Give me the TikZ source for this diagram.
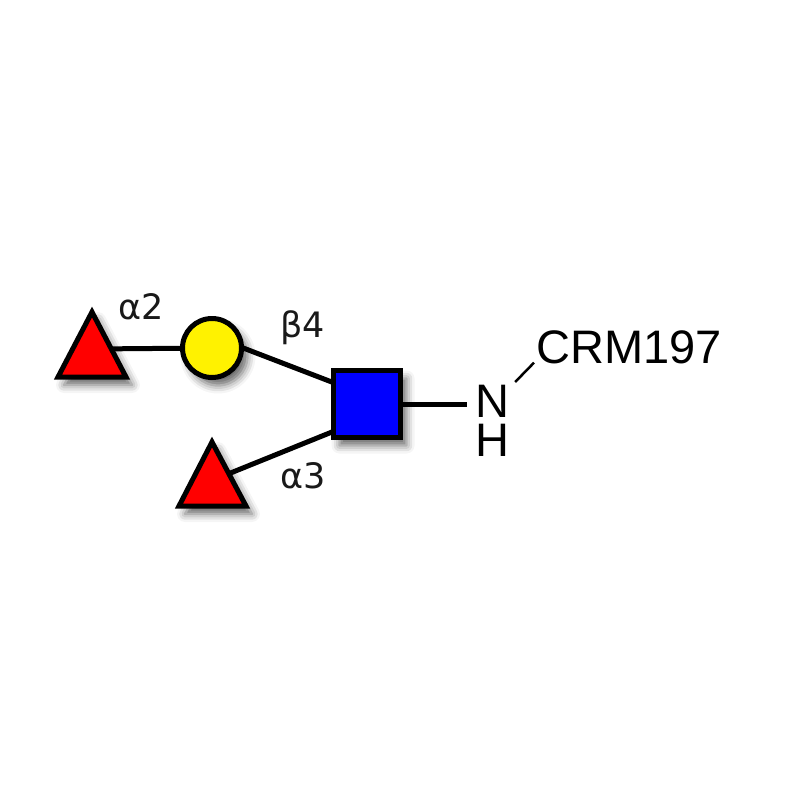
\documentclass[tikz,border=0pt]{standalone}
\usepackage{fontspec}
\setmainfont{Liberation Sans}
\newfontfamily\lblfont{DejaVu Sans}
\usetikzlibrary{calc,shadows.blur}
\begin{document}
\begin{tikzpicture}[x=1pt,y=-1pt,
  res/.style={draw=black,line width=5pt,line join=miter,
    blur shadow={shadow xshift=6pt,shadow yshift=-8pt,shadow blur radius=8pt,shadow opacity=60}},
  bond/.style={line width=5pt},
  lbl/.style={font=\lblfont\fontsize{35}{35}\selectfont,inner sep=0pt,text=black!90},
  atom/.style={font=\fontsize{47}{39}\selectfont,inner sep=0pt}]
\useasboundingbox (0,0) rectangle (800,800);
% residue centres
\coordinate (fuc1) at (92,349);
\coordinate (galc) at (212,348);
\coordinate (glcc) at (367,404);
\coordinate (fuc2) at (212,480);
\coordinate (nbond) at (467,404);
% bonds
\draw[bond] (fuc1) -- (galc);
\draw[bond] ($(galc)+(0,-12)$) -- ($(glcc)+(-17,-15)$);
\draw[bond] ($(fuc2)+(0,0.5)$) -- ($(glcc)+(-17,20.7)$);
\draw[bond] (glcc) -- (nbond);
% residues
\path[res,fill=red] (92,312) -- (126,377) -- (58,377) -- cycle;
\path[res,fill=red] (212,442) -- (246,506) -- (179,506) -- cycle;
\node[res,circle,fill=yellow,minimum size=59pt,inner sep=0pt] (gal) at (galc) {};
\node[res,rectangle,fill=blue,minimum size=67pt,inner sep=0pt] (glc) at (glcc) {};
% linkage labels
\node[lbl,anchor=base west] (l1) at (118,319) {α2};
\node[lbl,anchor=base west] (l2) at (280,337) {β4};
\node[lbl,anchor=base west] (l3) at (280,488) {α3};
% aglycone
\node[atom,anchor=north,align=center] (NH) at (492,385) {N\\H};
\node[atom,anchor=base west] (crm) at (536,363) {CRM197};
\draw[line width=2.5pt] ($(NH.north east)+(6,-3)$) -- ($(crm.south west)+(-2,-1)$);
\end{tikzpicture}
\end{document}
